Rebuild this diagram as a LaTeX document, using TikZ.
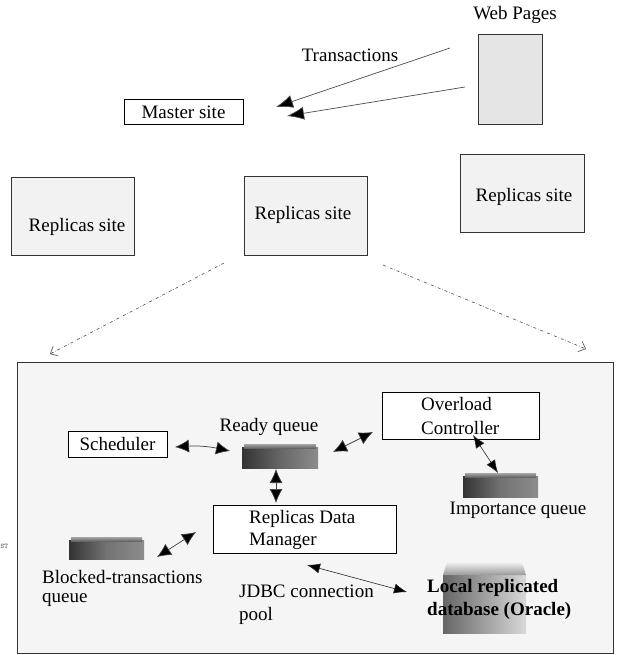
\documentclass[tikz,border=0pt]{standalone}
\usepackage{fontspec}
\setmainfont{Liberation Serif}
\usetikzlibrary{arrows.meta}
\begin{document}
\begin{tikzpicture}[x=1pt,y=-1pt,
  txt/.style={inner sep=0pt,font=\fontsize{19}{23}\selectfont},
  bx/.style={draw=black,line width=0.8pt,fill=white},
  site/.style={draw=black!80,line width=0.8pt,fill=black!5},
  big/.style={{Latex[length=14pt,width=13pt,fill=black]}-{Latex[length=14pt,width=13pt,fill=black]},line width=0.7pt,draw=black!75},
  thin/.style={{Latex[length=13pt,width=10pt,fill=black]}-{Latex[length=13pt,width=10pt,fill=black]},line width=0.6pt,draw=black!85},
  trans/.style={-{Latex[length=17pt,width=13pt,fill=black]},line width=0.7pt,draw=black!70},
  dd/.style={->,>={Straight Barb[length=6pt,width=11pt]},dash dot,line width=0.6pt,draw=black!70}]
\useasboundingbox (0,0) rectangle (616,655);
% top part
\node[txt] (webt) at (515,15) {Web Pages};
\node[draw=black!80,line width=0.8pt,fill=black!10,minimum width=64pt,minimum height=90pt,inner sep=0pt] (web) at (510,79) {};
\node[txt] (tr) at (350,55) {Transactions};
\node[bx,minimum width=119pt,minimum height=25pt,inner sep=0pt] (master) at (183.5,112) {};
\node[txt] at (master) {Master site};
\coordinate (w1) at (450,48);
\coordinate (w2) at (465,87);
\coordinate (m1) at (276,107);
\coordinate (m2) at (287,116);
\draw[trans] (w1) -- (m1);
\draw[trans] (w2) -- (m2);
\node[site,minimum width=123pt,minimum height=78pt,inner sep=0pt] (rl) at (72.5,216) {};
\node[txt] at (77,227) {Replicas site};
\node[site,minimum width=123pt,minimum height=79pt,inner sep=0pt] (rm) at (305.5,215.5) {};
\node[txt] at (303,215) {Replicas site};
\node[site,minimum width=124pt,minimum height=78pt,inner sep=0pt] (rr) at (522,193) {};
\node[txt] at (524,197) {Replicas site};
\coordinate (d1) at (224,263);
\coordinate (d1e) at (50,354);
\coordinate (d2) at (383,265);
\coordinate (d2e) at (586,349);
\draw[dd] (d1) -- (d1e);
\draw[dd] (d2) -- (d2e);
% big box
\node[draw=black!80,line width=0.8pt,fill=black!4,minimum width=596pt,minimum height=291pt,inner sep=0pt] (detail) at (315.5,507.5) {};
\node[anchor=west,inner sep=0pt,font=\fontsize{7}{8}\selectfont\ttfamily,text=black!70] (st) at (0.5,546) {ST};
% scheduler
\node[bx,minimum width=99pt,minimum height=26pt,inner sep=0pt] (sched) at (117.5,444) {};
\node[txt] at (sched) {Scheduler};
% ready queue
\node[txt] (rqt) at (269,427) {Ready queue};
\shade[left color=black!80,right color=black!45,middle color=black!60] (242,447) rectangle (318,468);
\shade[top color=black!35,bottom color=black!60] (244,444) rectangle (316,448);
\node[inner sep=0pt,minimum width=76pt,minimum height=24pt] (ready) at (280,456) {};
% RDM
\node[bx,minimum width=183pt,minimum height=48pt,inner sep=0pt] (rdm) at (304.5,529) {};
\node[txt,anchor=west] at (249,519) {Replicas Data};
\node[txt,anchor=west] at (249,541) {Manager};
% blocked queue
\shade[left color=black!80,right color=black!45,middle color=black!55] (69,540) rectangle (144,559);
\shade[top color=black!35,bottom color=black!60] (71,537) rectangle (142,541);
\node[inner sep=0pt,minimum width=75pt,minimum height=22pt] (blocked) at (106.5,548) {};
\node[txt,anchor=west] at (42,577) {Blocked-transactions};
\node[txt,anchor=west] at (42,600) {queue};
% JDBC
\node[txt,anchor=west] at (239,591) {JDBC connection};
\node[txt,anchor=west] at (239,616) {pool};
% overload
\node[bx,minimum width=157pt,minimum height=47pt,inner sep=0pt] (over) at (460.5,415.5) {};
\node[txt,anchor=west] at (421,404) {Overload};
\node[txt,anchor=west] at (421,428) {Controller};
% importance queue
\shade[left color=black!80,right color=black!45,middle color=black!55] (463,476) rectangle (538,497);
\shade[top color=black!35,bottom color=black!60] (465,473) rectangle (536,477);
\node[inner sep=0pt,minimum width=75pt,minimum height=24pt] (imp) at (500.5,485) {};
\node[txt] at (518,510) {Importance queue};
% DB cube
\shade[left color=black!60,right color=black!15] (443,575) rectangle (526,633);
\shade[top color=black!5,bottom color=black!40] (447,562) -- (522,562) -- (526,575) -- (443,575) -- cycle;
\node[inner sep=0pt,minimum width=83pt,minimum height=71pt] (db) at (484.5,598) {};
\node[txt,anchor=west,font=\fontsize{19}{23}\selectfont\bfseries] at (427,588) {Local replicated};
\node[txt,anchor=west,font=\fontsize{19}{23}\selectfont\bfseries] at (427,611) {database (Oracle)};
% connectors
\coordinate (a1) at (175,447);
\coordinate (a2) at (230,451);
\draw[big] (a1) to[bend left=8] (a2);
\coordinate (b1) at (276,469);
\coordinate (b2) at (276,503);
\draw[big] (b1) -- (b2);
\coordinate (c1) at (157,557);
\coordinate (c2) at (196,532);
\draw[big] (c1) -- (c2);
\coordinate (e1) at (333,452);
\coordinate (e2) at (373,432);
\draw[big] (e1) -- (e2);
\coordinate (f1) at (473,435);
\coordinate (f2) at (498,473);
\draw[thin] (f1) -- (f2);
\coordinate (g1) at (307,565);
\coordinate (g2) at (407,592);
\draw[thin] (g1) -- (g2);
\end{tikzpicture}
\end{document}
